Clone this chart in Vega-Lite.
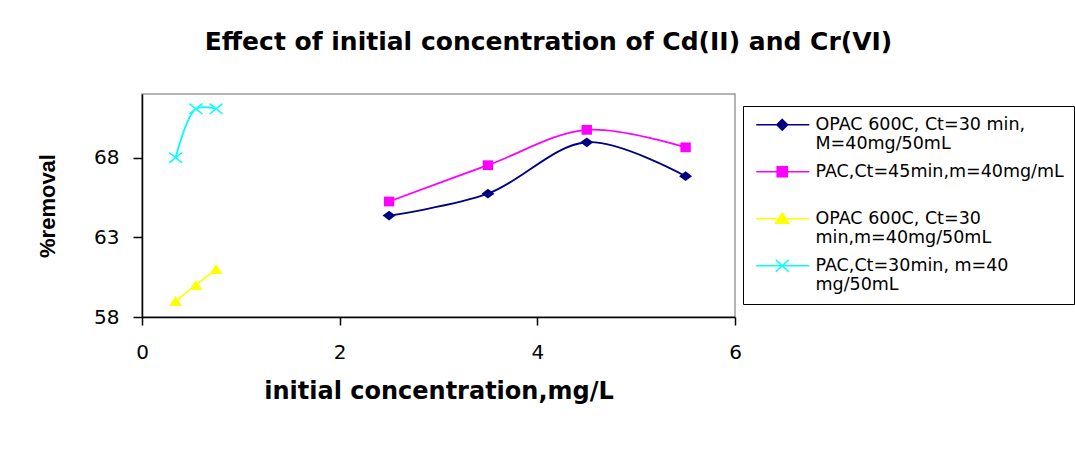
{
  "$schema": "https://vega.github.io/schema/vega-lite/v6.json",
  "width": 593,
  "height": 223,
  "autosize": {"type": "none"},
  "padding": {"left": 142, "top": 94, "right": 340, "bottom": 133},
  "background": "white",
  "config": {
    "view": {"stroke": "#9a9a9a", "strokeWidth": 1.5},
    "font": "DejaVu Sans"
  },
  "title": {
    "text": "Effect of initial concentration of Cd(II) and Cr(VI)",
    "font": "DejaVu Sans",
    "fontSize": 25,
    "fontWeight": "bold",
    "color": "black",
    "anchor": "middle",
    "frame": "group",
    "dx": 110,
    "offset": 39
  },
  "data": {
    "values": [
      {"series": "OPAC 600C, Ct=30 min, M=40mg/50mL", "x": 2.5, "y": 64.37},
      {"series": "OPAC 600C, Ct=30 min, M=40mg/50mL", "x": 3.5, "y": 65.74},
      {"series": "OPAC 600C, Ct=30 min, M=40mg/50mL", "x": 4.5, "y": 68.97},
      {"series": "OPAC 600C, Ct=30 min, M=40mg/50mL", "x": 5.5, "y": 66.84},
      {"series": "PAC,Ct=45min,m=40mg/mL", "x": 2.5, "y": 65.25},
      {"series": "PAC,Ct=45min,m=40mg/mL", "x": 3.5, "y": 67.53},
      {"series": "PAC,Ct=45min,m=40mg/mL", "x": 4.5, "y": 69.75},
      {"series": "PAC,Ct=45min,m=40mg/mL", "x": 5.5, "y": 68.65},
      {"series": "OPAC 600C, Ct=30 min,m=40mg/50mL", "x": 0.34, "y": 59.0},
      {"series": "OPAC 600C, Ct=30 min,m=40mg/50mL", "x": 0.545, "y": 60.0},
      {"series": "OPAC 600C, Ct=30 min,m=40mg/50mL", "x": 0.75, "y": 61.0},
      {"series": "PAC,Ct=30min, m=40 mg/50mL", "x": 0.34, "y": 68.0},
      {"series": "PAC,Ct=30min, m=40 mg/50mL", "x": 0.545, "y": 71.07},
      {"series": "PAC,Ct=30min, m=40 mg/50mL", "x": 0.75, "y": 71.07}
    ]
  },
  "encoding": {
    "x": {
      "field": "x",
      "type": "quantitative",
      "scale": {"domain": [0, 6], "nice": false},
      "axis": {
        "title": "initial concentration,mg/L",
        "values": [0, 2, 4, 6],
        "grid": false,
        "labelFlush": false,
        "domainColor": "black",
        "domainWidth": 1.5,
        "tickColor": "black",
        "tickWidth": 1.5,
        "tickSize": 8,
        "labelFont": "DejaVu Sans",
        "labelFontSize": 20,
        "labelColor": "black",
        "labelPadding": 17,
        "titleFont": "DejaVu Sans",
        "titleFontSize": 24,
        "titleFontWeight": "bold",
        "titleColor": "black",
        "titlePadding": 17
      }
    },
    "y": {
      "field": "y",
      "type": "quantitative",
      "scale": {"domain": [58, 72], "nice": false, "zero": false},
      "axis": {
        "title": "%removal",
        "values": [58, 63, 68],
        "grid": false,
        "labelFlush": false,
        "domainColor": "black",
        "domainWidth": 1.5,
        "tickColor": "black",
        "tickWidth": 1.5,
        "tickSize": 9,
        "labelFont": "DejaVu Sans",
        "labelFontSize": 20,
        "labelColor": "black",
        "labelPadding": 14,
        "titleFont": "Liberation Sans",
        "titleFontSize": 22,
        "titleFontWeight": "bold",
        "titleColor": "black",
        "titlePadding": 34
      }
    },
    "color": {
      "field": "series",
      "type": "nominal",
      "scale": {
        "domain": ["OPAC 600C, Ct=30 min, M=40mg/50mL", "PAC,Ct=45min,m=40mg/mL", "OPAC 600C, Ct=30 min,m=40mg/50mL", "PAC,Ct=30min, m=40 mg/50mL"],
        "range": ["#000080", "#ff00ff", "#ffff00", "#00ffff"]
      },
      "legend": null
    }
  },
  "layer": [
    {
      "mark": {"type": "line", "interpolate": "catmull-rom", "strokeWidth": 1.8},
      "encoding": {
        "color": {
          "field": "series",
          "type": "nominal",
          "legend": {
            "title": null,
            "orient": "none",
            "legendX": 601,
            "legendY": 12,
            "strokeColor": "black",
            "padding": 10,
            "labelFont": "DejaVu Sans",
            "labelFontSize": 17.5,
            "labelLineHeight": 20,
            "labelColor": "black",
            "labelLimit": 400,
            "labelOffset": 45,
            "symbolSize": 100,
            "symbolStrokeWidth": 1.5,
            "rowPadding": 9,
            "labelExpr": "datum.label == 'OPAC 600C, Ct=30 min, M=40mg/50mL' ? ['OPAC 600C, Ct=30 min,', 'M=40mg/50mL'] : datum.label == 'PAC,Ct=45min,m=40mg/mL' ? ['PAC,Ct=45min,m=40mg/mL', ' '] : datum.label == 'OPAC 600C, Ct=30 min,m=40mg/50mL' ? ['OPAC 600C, Ct=30', 'min,m=40mg/50mL'] : ['PAC,Ct=30min, m=40', 'mg/50mL']",
            "encode": {
              "symbols": {
                "update": {
                  "shape": {"signal": "datum.index == 0 ? 'M-1.1,0L9.5,0M4.1,-1.06L5.16,0L4.1,1.06L3.04,0Z' : datum.index == 1 ? 'M-1.1,0L9.5,0M3.1,-1L5.1,-1L5.1,1L3.1,1Z' : datum.index == 2 ? 'M-1.1,0L9.5,0M4.1,-1.1L5.4,0.9L2.8,0.9Z' : 'M-1.1,0L9.5,0M2.8,-1.2L5.4,1.2M2.8,1.2L5.4,-1.2'"},
                  "fill": {"signal": "datum.index == 0 ? '#000080' : datum.index == 1 ? '#ff00ff' : datum.index == 2 ? '#ffff00' : '#00ffff'"},
                  "stroke": {"signal": "datum.index == 0 ? '#000080' : datum.index == 1 ? '#ff00ff' : datum.index == 2 ? '#ffff00' : '#00ffff'"},
                  "size": {"value": 100},
                  "strokeWidth": {"value": 1.6},
                  "opacity": {"value": 1}
                }
              }
            }
          }
        }
      }
    },
    {
      "transform": [{"filter": {"field": "series", "equal": "OPAC 600C, Ct=30 min, M=40mg/50mL"}}],
      "mark": {"type": "point", "filled": true, "opacity": 1, "size": 169, "shape": "M0,-0.75L1,0L0,0.75L-1,0Z"},
      "encoding": {}
    },
    {
      "transform": [{"filter": {"field": "series", "equal": "PAC,Ct=45min,m=40mg/mL"}}],
      "mark": {"type": "point", "filled": true, "opacity": 1, "size": 169, "shape": "M-0.8,-0.75L0.8,-0.75L0.8,0.75L-0.8,0.75Z"},
      "encoding": {}
    },
    {
      "transform": [{"filter": {"field": "series", "equal": "OPAC 600C, Ct=30 min,m=40mg/50mL"}}],
      "mark": {"type": "point", "filled": true, "opacity": 1, "size": 169, "shape": "M0,-0.8L1,0.75L-1,0.75Z"},
      "encoding": {}
    },
    {
      "transform": [{"filter": {"field": "series", "equal": "PAC,Ct=30min, m=40 mg/50mL"}}],
      "mark": {"type": "point", "filled": false, "strokeWidth": 1.5, "opacity": 1, "size": 169, "shape": "M-1,-0.8L1,0.8M-1,0.8L1,-0.8"},
      "encoding": {}
    }
  ]
}
